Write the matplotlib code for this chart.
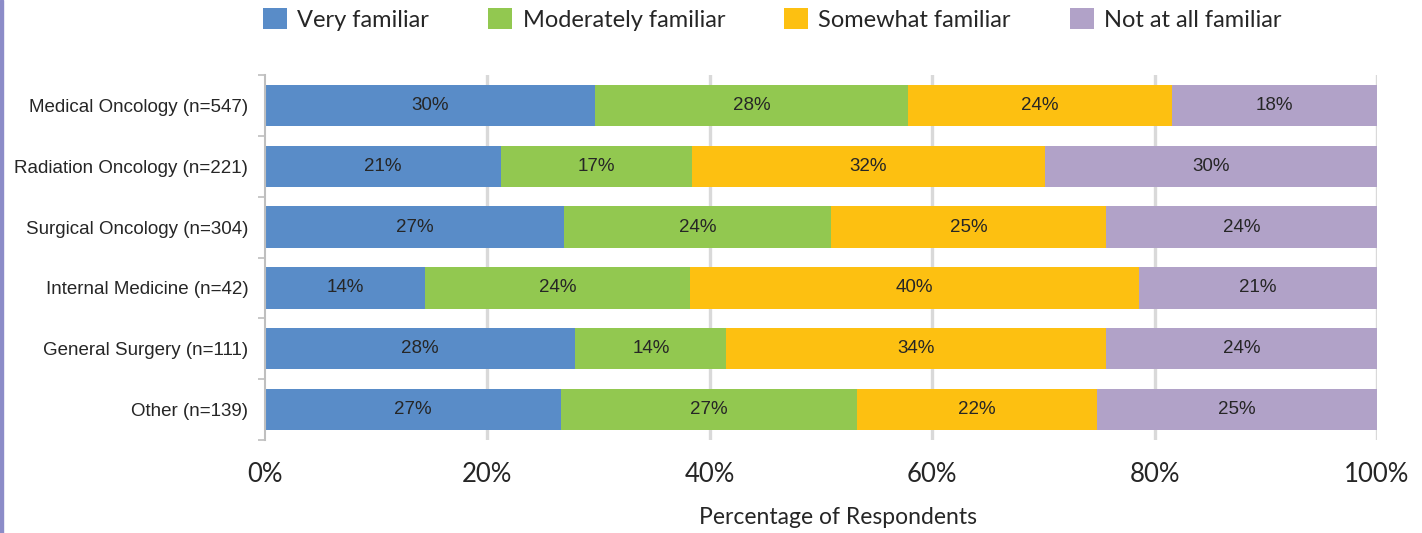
import matplotlib.pyplot as plt
import numpy as np
from matplotlib.patches import Patch, Rectangle

# %% data
categories = ['Medical Oncology (n=547)', 'Radiation Oncology (n=221)', 'Surgical Oncology (n=304)',
              'Internal Medicine (n=42)', 'General Surgery (n=111)', 'Other (n=139)']
series = ['Very familiar', 'Moderately familiar', 'Somewhat familiar', 'Not at all familiar']
very = [29.7, 21.2, 26.9, 14.4, 27.9, 26.6]
moderately = [28.1, 17.2, 24.0, 23.8, 13.6, 26.6]
somewhat = [23.8, 31.7, 24.7, 40.4, 34.1, 21.6]
not_at_all = [18.4, 29.9, 24.4, 21.4, 24.4, 25.2]
xticks = [0, 20, 40, 60, 80, 100]
xtick_labels = ['0%', '20%', '40%', '60%', '80%', '100%']

colors = ['#598cc8', '#92c850', '#fdc011', '#b1a2c8']
geo_font = 'Lato'
arial = 'Liberation Sans'

# %% plot
fig = plt.figure(figsize=(14.22, 5.33), dpi=100)
ax = fig.add_axes([265 / 1422, 1 - 440 / 533, 1112 / 1422, 365 / 533])

y = np.arange(len(categories))
left = np.zeros(len(categories))
for vals, col in zip([very, moderately, somewhat, not_at_all], colors):
    vals = np.array(vals)
    ax.barh(y, vals, left=left, height=0.68, color=col, zorder=2)
    for yi, l, v in zip(y, left, vals):
        ax.text(l + v / 2, yi, '{:.0f}%'.format(v), ha='center', va='center',
                fontsize=13.5, family=arial, color='#262626', zorder=3)
    left += vals

ax.set_xlim(0, 100)
ax.set_ylim(len(categories) - 0.5, -0.5)
ax.set_yticks(y)
ax.set_yticklabels(categories, family=arial, fontsize=13.5, color='#262626')
ax.set_yticks(np.arange(-0.5, len(categories), 1), minor=True)
ax.tick_params(axis='y', which='major', length=0, pad=12)
ax.tick_params(axis='y', which='minor', length=5, width=1.2, color='#bfbfbf')

ax.set_xticks(xticks)
ax.set_xticklabels(xtick_labels, family=geo_font, fontsize=18.5, color='#262626')
ax.tick_params(axis='x', length=0, pad=16)
for xv in xticks[1:]:
    ax.axvline(xv, color='#d9d9d9', lw=2.4, zorder=1)

for s in ['top', 'right', 'bottom']:
    ax.spines[s].set_visible(False)
ax.spines['left'].set_color('#bfbfbf')
ax.spines['left'].set_linewidth(1.5)

ax.set_xlabel('Percentage of Respondents', family=geo_font, fontsize=16.5, color='#262626')
ax.xaxis.label.set_va('center')
ax.xaxis.set_label_coords(0.515, -0.211)

handles = [Patch(facecolor=c, edgecolor='none') for c in colors]
fig.legend(handles, series, loc='upper left', bbox_to_anchor=(242 / 1422, 1.025), ncol=4, frameon=False,
           prop={'family': geo_font, 'size': 17}, handlelength=1.0, handleheight=1.0,
           handletextpad=0.45, columnspacing=2.5, labelcolor='#262626')

# purple edge on the left
fig.patches.append(Rectangle((0, 0), 3 / 1422, 1, transform=fig.transFigure, color='#8c8cc8'))

plt.savefig('out.png', dpi=100)
